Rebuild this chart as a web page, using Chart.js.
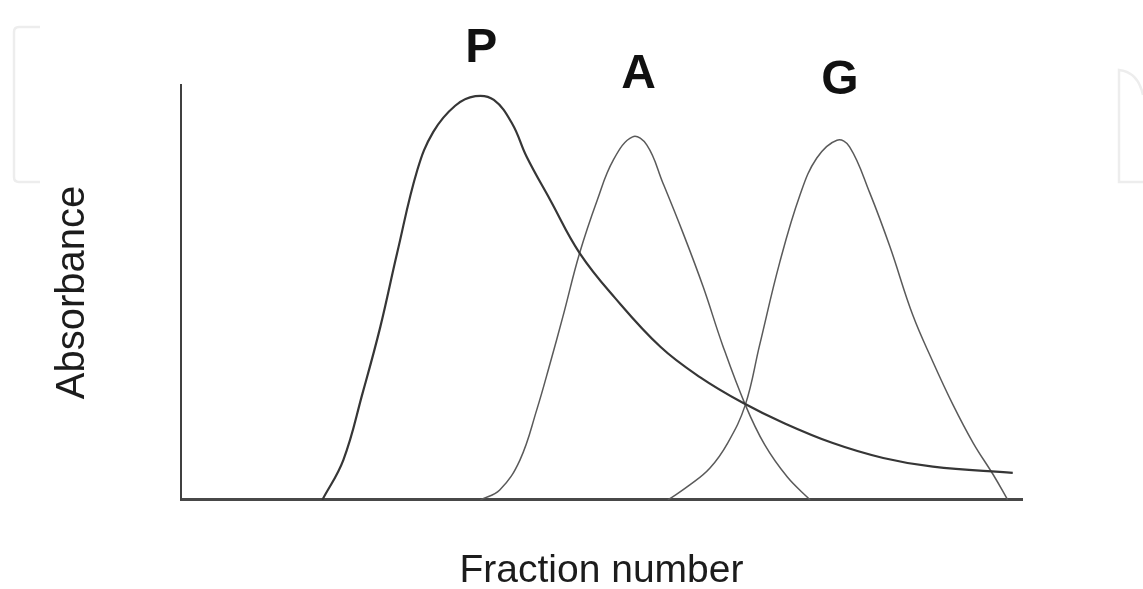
<!DOCTYPE html>
<html>
<head>
<meta charset="utf-8">
<style>
  html, body { margin: 0; padding: 0; background: #ffffff; }
  #wrap { width: 1143px; height: 589px; position: relative; }
</style>
<script src="https://cdn.jsdelivr.net/npm/chart.js@4/dist/chart.umd.min.js"></script>
</head>
<body>
<div id="wrap"><canvas id="c" width="1143" height="589"></canvas></div>
<script>
// ---- Data (fraction number 0..100, absorbance 0..100) ----
const seriesNames = ['P', 'A', 'G'];

const pX = [16.8, 19.3, 21.6, 23.7, 25.7, 28.1, 30.0, 32.6, 35.0, 37.2, 39.4, 41.1, 43.9, 47.4, 51.6, 57.0, 61.7, 66.8, 71.6, 77.5, 83.5, 89.4, 98.9];
const pY = [0, 9.6, 25.8, 41.7, 59.5, 79.5, 88.7, 95.0, 97.3, 96.4, 90.6, 82.7, 72.3, 59.5, 48.7, 36.9, 29.6, 23.4, 18.6, 13.7, 10.1, 8.0, 6.5];

const aX = [35.6, 37.9, 40.3, 42.3, 43.9, 45.4, 47.4, 49.5, 51.4, 53.7, 55.4, 57.3, 59.7, 62.1, 64.4, 67.1, 69.4, 72.1, 74.8];
const aY = [0, 2.4, 9.6, 21.7, 33.0, 44.1, 59.5, 72.3, 81.9, 87.5, 85.5, 76.4, 64.3, 51.3, 37.3, 22.9, 13.3, 5.5, 0];

const gX = [57.9, 60.5, 62.9, 65.0, 67.1, 68.8, 71.2, 73.6, 75.6, 78.0, 79.5, 81.9, 84.3, 87.0, 89.4, 91.8, 94.2, 96.6, 98.3];
const gY = [0, 3.6, 7.7, 13.7, 22.9, 37.3, 57.3, 73.5, 82.4, 86.7, 85.1, 74.0, 61.0, 44.6, 33.3, 22.9, 13.7, 6.0, 0];

const xTitle = 'Fraction number';
const yTitle = 'Absorbance';

// ---- Build library structures ----
const toPoints = (xs, ys) => xs.map((x, i) => ({ x: x, y: ys[i] }));

const styles = [
  { color: '#363636', width: 2.2 },
  { color: '#5a5a5a', width: 1.5 },
  { color: '#5a5a5a', width: 1.5 }
];
const seriesData = [toPoints(pX, pY), toPoints(aX, aY), toPoints(gX, gY)];

// Peak letter labels, placed relative to each series' maximum
const peakLabelPlugin = {
  id: 'peakLabels',
  afterDatasetsDraw(chart, args, opts) {
    const ctx = chart.ctx;
    const xs = chart.scales.x, ys = chart.scales.y;
    ctx.save();
    ctx.font = opts.font;
    ctx.fillStyle = opts.color;
    ctx.textAlign = 'center';
    ctx.textBaseline = 'alphabetic';
    chart.data.datasets.forEach((ds, i) => {
      let best = ds.data[0];
      ds.data.forEach(p => { if (p.y > best.y) best = p; });
      const off = opts.offsets[i];
      ctx.fillText(ds.label, xs.getPixelForValue(best.x) + off[0], ys.getPixelForValue(best.y) + off[1]);
    });
    ctx.restore();
  }
};

// Faint background watermark outlines
const watermarkPlugin = {
  id: 'watermark',
  beforeDraw(chart) {
    const ctx = chart.ctx;
    ctx.save();
    ctx.fillStyle = '#ffffff';
    ctx.fillRect(0, 0, chart.width, chart.height);
    ctx.strokeStyle = '#ededed';
    ctx.lineWidth = 2.5;
    ctx.beginPath();
    ctx.moveTo(40, 27);
    ctx.lineTo(19, 27);
    ctx.quadraticCurveTo(14, 27, 14, 32);
    ctx.lineTo(14, 177);
    ctx.quadraticCurveTo(14, 182, 19, 182);
    ctx.lineTo(40, 182);
    ctx.stroke();
    ctx.beginPath();
    ctx.moveTo(1143, 182);
    ctx.lineTo(1119, 182);
    ctx.lineTo(1119, 70);
    ctx.quadraticCurveTo(1138, 72, 1143, 95);
    ctx.stroke();
    ctx.restore();
  }
};

new Chart(document.getElementById('c'), {
  type: 'line',
  data: {
    datasets: seriesNames.map((name, i) => ({
      label: name,
      data: seriesData[i],
      borderColor: styles[i].color,
      borderWidth: styles[i].width,
      pointRadius: 0,
      fill: false,
      tension: 0.4
    }))
  },
  options: {
    responsive: false,
    animation: false,
    devicePixelRatio: 1,
    layout: { autoPadding: false, padding: { top: 85, right: 121, bottom: 0, left: 0 } },
    plugins: {
      legend: { display: false },
      tooltip: { enabled: false },
      peakLabels: {
        font: 'bold 48px "Liberation Sans", Arial, sans-serif',
        color: '#111111',
        offsets: [[6, -34], [6, -49], [3, -46]]
      }
    },
    scales: {
      x: {
        type: 'linear',
        min: 0,
        max: 100,
        grid: { display: false, drawTicks: false },
        ticks: { display: false },
        border: { display: true, color: '#484848', width: 3 },
        title: {
          display: true,
          text: xTitle,
          color: '#1c1c1c',
          font: { family: '"Liberation Sans", Arial, sans-serif', size: 39, lineHeight: 0.9 },
          padding: { top: 54, bottom: 0 }
        }
      },
      y: {
        type: 'linear',
        min: 0,
        max: 100,
        grid: { display: false, drawTicks: false },
        ticks: { display: false },
        border: { display: true, color: '#404040', width: 2 },
        title: {
          display: true,
          text: yTitle,
          color: '#1c1c1c',
          font: { family: '"Liberation Sans", Arial, sans-serif', size: 40, lineHeight: 1 },
          padding: { top: 53, bottom: 88 }
        }
      }
    }
  },
  plugins: [watermarkPlugin, peakLabelPlugin]
});
</script>
</body>
</html>
